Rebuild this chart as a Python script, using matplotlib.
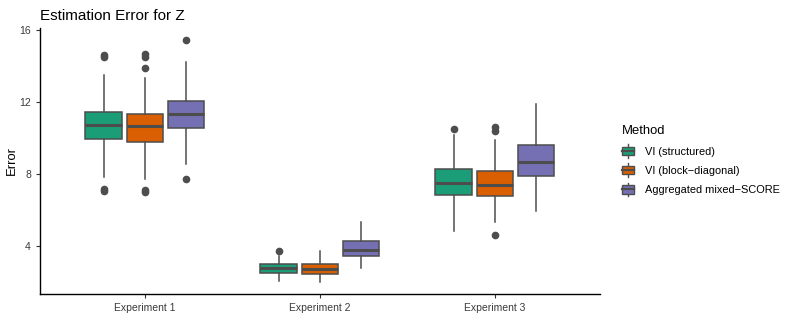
import matplotlib
matplotlib.use("Agg")
import matplotlib.pyplot as plt
from matplotlib.legend_handler import HandlerBase
from matplotlib.patches import Rectangle, Patch
from matplotlib.lines import Line2D

plt.rcParams['font.family'] = ['Liberation Sans', 'DejaVu Sans']

# data
experiments = ["Experiment 1", "Experiment 2", "Experiment 3"]
methods = ["VI (structured)", "VI (block\u2212diagonal)", "Aggregated mixed\u2212SCORE"]
colors = ["#1B9E77", "#D95F02", "#7570B3"]

# per method, one value per experiment
q1 = [[9.93, 2.52, 6.81], [9.76, 2.44, 6.78], [10.54, 3.46, 7.91]]
med = [[10.74, 2.76, 7.52], [10.65, 2.72, 7.39], [11.33, 3.80, 8.68]]
q3 = [[11.43, 2.98, 8.26], [11.32, 3.02, 8.17], [12.07, 4.30, 9.61]]
whislo = [[7.85, 2.07, 4.82], [7.74, 2.02, 5.35], [8.56, 2.78, 5.96]]
whishi = [[13.52, 3.44, 10.17], [13.35, 3.72, 9.89], [14.24, 5.35, 11.89]]
fliers = [
    [[14.6, 14.5, 7.17, 7.06], [3.74], [10.5]],
    [[14.67, 14.48, 13.87, 7.11, 6.98], [], [10.59, 10.39, 4.59]],
    [[15.44, 7.72], [], []],
]

edge = "#4d4d4d"

fig = plt.figure(figsize=(7.93, 3.17), dpi=100)
ax = fig.add_axes([0.0504, 0.0726, 0.7062, 0.8394])

for i in range(len(methods)):
    stats = []
    for j in range(len(experiments)):
        stats.append(dict(med=med[i][j], q1=q1[i][j], q3=q3[i][j],
                          whislo=whislo[i][j], whishi=whishi[i][j],
                          fliers=fliers[i][j]))
    pos = [j + 1 + (i - 1) * 0.235 for j in range(len(experiments))]
    ax.bxp(stats, positions=pos, widths=0.21, patch_artist=True,
           showcaps=False, manage_ticks=False,
           boxprops=dict(facecolor=colors[i], edgecolor=edge, linewidth=1.1),
           medianprops=dict(color=edge, linewidth=2.2),
           whiskerprops=dict(color=edge, linewidth=1.1),
           flierprops=dict(marker='o', markerfacecolor=edge,
                           markeredgecolor=edge, markersize=4.5))

ax.set_xlim(0.4, 3.6)
ax.set_ylim(1.33, 16.12)
ax.set_xticks([1, 2, 3])
ax.set_xticklabels(experiments)
ax.set_yticks([4, 8, 12, 16])
ax.tick_params(colors="#333333", labelcolor="#3a3a3a", labelsize=7.5,
               length=3, width=0.8)
for s in ["top", "right"]:
    ax.spines[s].set_visible(False)
for s in ["left", "bottom"]:
    ax.spines[s].set_linewidth(1.0)
ax.set_ylabel("Error", fontsize=9.4, labelpad=1)
ax.set_title("Estimation Error for Z", fontsize=11, loc="left", pad=6)


class BoxKey(HandlerBase):
    def create_artists(self, legend, orig_handle, xd, yd, w, h, fontsize, trans):
        x0, y0 = -xd, -yd
        cx = x0 + w / 2
        whisk = Line2D([cx, cx], [y0 - 0.3 * h, y0 + 1.3 * h], color=edge,
                       linewidth=1.0, transform=trans)
        rect = Rectangle((x0, y0), w, h, facecolor=orig_handle.get_facecolor(),
                         edgecolor=edge, linewidth=1.0, transform=trans)
        mid = Line2D([x0, x0 + w], [y0 + h / 2, y0 + h / 2], color=edge,
                     linewidth=1.6, transform=trans)
        return [whisk, rect, mid]


handles = [Patch(facecolor=c) for c in colors]
leg = fig.legend(handles, methods, title="Method", loc="upper left",
                 bbox_to_anchor=(0.772, 0.636), frameon=False,
                 fontsize=7.9, title_fontsize=9.4, alignment="left",
                 handler_map={Patch: BoxKey()}, handlelength=1.05,
                 handleheight=0.8, handletextpad=1.05, labelspacing=0.85)

fig.savefig("out.png", dpi=100)
